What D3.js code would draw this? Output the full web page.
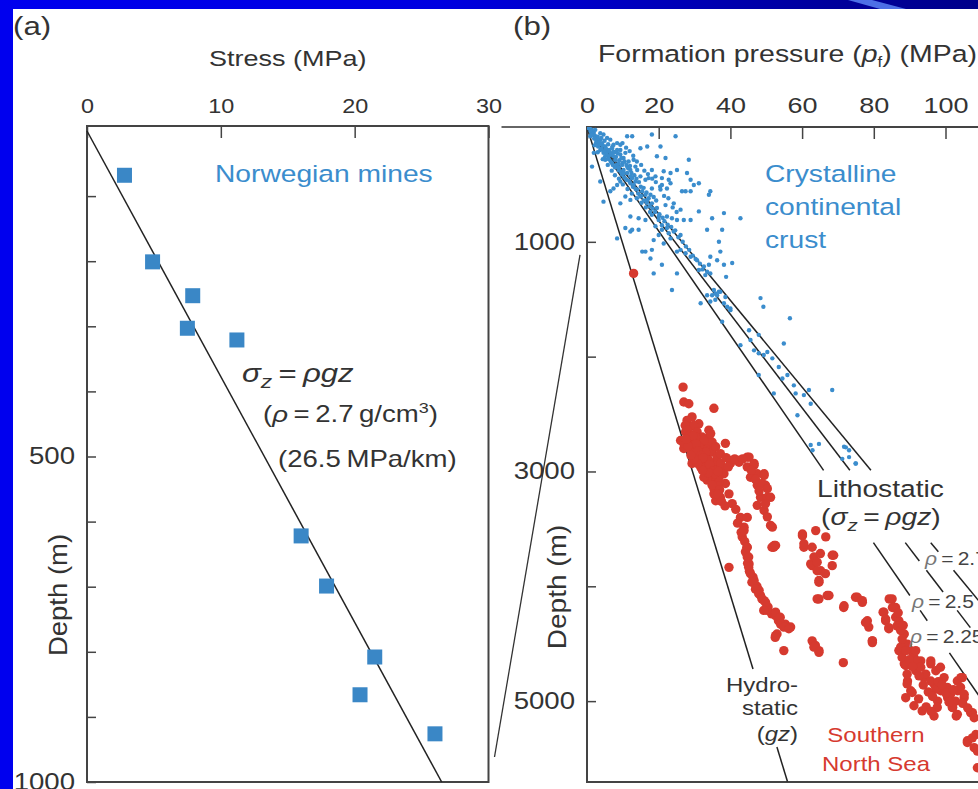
<!DOCTYPE html>
<html>
<head>
<meta charset="utf-8">
<script src="https://cdnjs.cloudflare.com/ajax/libs/d3/7.8.5/d3.min.js"></script>
<style>
body { margin: 0; background: #0000ee; overflow: hidden; }
svg { display: block; }
text { font-family: "Liberation Sans", Arial, Helvetica, sans-serif; fill: #333; }
</style>
</head>
<body>
<svg id="fig" width="978" height="789"></svg>
<script>
// ---- data ----
// (a) Norwegian mines: vertical stress vs depth
const mineStress = [2.8, 4.9, 7.9, 7.5, 11.2, 16.0, 17.9, 21.5, 20.4, 26.0];
const mineDepth = [68, 201, 253, 303, 321, 622, 699, 808, 866, 926];
const stressTicks = [0, 10, 20, 30];
const depthTicksA = [100, 200, 300, 400, 500, 600, 700, 800, 900, 1000];
const depthLabelsA = [500, 1000];
const gradA = 26.5; // MPa/km

// (b) formation pressure vs depth
const pressTicks = [0, 20, 40, 60, 80, 100, 120];
const depthTicksB = [1000, 2000, 3000, 4000, 5000];
const depthLabelsB = [1000, 3000, 5000];
const g = 9.81; // MPa/km per g/cm3
const lithoRho = [2.25, 2.5, 2.7];
// depth ranges (m) where each line is drawn (gaps leave room for labels)
const lithoSegs = [
  [[0, 2990], [3620, 4080], [4210, 4300], [4580, 5700]],
  [[0, 2990], [3620, 3780], [3860, 4050], [4210, 4360], [4580, 5700]],
  [[0, 2990], [3620, 3700], [3860, 5700]]
];
const hydroSegs = [[0, 4720], [5400, 5700]];

// crystalline continental crust [pressure MPa, depth m]
const crustPts = [
  [0.5,10],[1.4,25],[1.9,50],[2.8,95],[3.7,110],[4.2,140],[5.1,170],[5.6,215],[6.5,225],[7.4,255],
  [7.9,285],[8.8,315],[9.8,330],[10.2,375],[11.2,400],[12.1,490],[13.0,505],[14.0,545],[15.4,560],
  [16.3,590],[17.2,620],[2.3,25],[4.6,65],[6.5,110],[7.4,155],[8.4,200],[9.3,240],[10.2,270],
  [11.6,300],[7.0,315],[6.0,255],[3.3,155],[0.9,80],[1.9,225],[1.4,345],[5.1,285],[13.0,285],
  [14.0,375],[14.9,430],[16.3,460],[9.3,475],[3.7,55],[5.6,95],[7.0,185],[8.4,140],[9.3,200],
  [10.7,225],[11.2,345],[12.1,375],[8.8,375],[9.8,415],[12.6,445],[13.5,475],[7.4,215],[4.6,225],
  [3.7,200],[0.3,5],[0.8,15],[1.0,40],[1.6,60],[2.2,75],[2.6,120],[3.0,85],[3.4,130],[4.0,95],
  [4.4,160],[4.9,120],[5.3,190],[5.9,150],[6.2,200],[6.8,240],[7.1,170],[7.7,220],[8.1,260],
  [8.6,230],[9.0,290],[9.6,270],[10.0,310],[10.5,300],[11.0,330],[11.5,360],[12.0,340],[12.4,400],
  [13.2,420],[13.8,450],[14.5,480],[15.0,520],[15.8,530],[16.6,570],[17.7,590],[18.6,610],[19.3,640],
  [1.2,70],[2.0,100],[2.5,140],[3.1,170],[3.6,150],[4.1,190],[4.8,210],[5.4,240],[5.0,260],[6.1,280],
  [6.6,300],[7.2,330],[7.8,350],[8.3,330],[8.9,350],[9.4,390],[10.4,440],[11.0,460],[11.8,470],
  [12.8,520],[13.6,540],[14.3,580],[15.1,600],[15.9,640],[16.7,660],[17.5,690],[18.3,710],[19.0,740],
  [20.2,760],[21.1,790],[21.6,820],[22.5,850],[23.5,870],[24.6,900],[25.5,960],[26.7,1000],
  [27.6,1040],[28.5,1070],[29.5,1120],[30.3,1150],[31.5,1190],[32.2,1240],[33.0,1290],[2.1,160],
  [3.0,220],[4.4,280],[5.8,330],[6.9,380],[7.8,420],[8.9,450],[10.0,500],[11.3,540],[12.5,580],
  [13.9,620],[15.2,660],[16.4,700],[17.6,740],[9.9,140],[10.9,180],[11.9,210],[12.9,250],[13.9,300],
  [15.1,330],[16.0,380],[17.0,410],[18.2,450],[19.2,480],[20.4,520],[21.5,600],[22.7,620],[23.9,700],
  [25.0,740],
  [11.2,80],[12.6,80],[18.1,65],[20.5,170],[24.7,80],[14.9,185],[16.8,170],[9.3,155],[19.5,255],
  [21.9,270],[28.4,285],[25.1,375],[21.4,385],[23.3,400],[18.1,375],[19.1,430],[17.2,445],[20.9,445],
  [22.8,460],[27.9,400],[28.9,460],[29.8,505],[31.2,490],[26.5,560],[27.5,560],[28.9,560],[34.4,560],
  [34.0,590],[20.9,505],[23.3,490],[18.1,535],[20.5,545],[22.3,535],[13.5,345],[12.1,430],[10.2,400],
  [8.4,505],[7.4,535],[6.5,560],[10.7,605],[12.1,635],[4.6,650],[9.3,665],[3.7,475],[14.9,605],
  [16.8,635],[18.1,665],[19.5,705],[21.9,680],[24.2,665],[26.1,720],[28.9,810],[31.2,735],[34.9,795],
  [38.2,750],[42.8,795],[12.1,780],[14.4,795],[16.3,810],[18.1,765],[20.0,780],[22.3,780],[23.7,795],
  [25.1,810],[27.0,810],[10.7,880],[12.6,895],[14.4,895],[8.4,970],[12.1,910],[19.1,865],[20.9,895],
  [22.8,925],[20.0,940],[18.6,985],[21.4,1015],[23.3,970],[25.1,1085],[26.1,1070],[27.5,1100],
  [28.9,1130],[30.7,1160],[32.6,1215],[34.0,1200],[33.5,1260],[33.5,895],[37.7,895],[36.8,1000],
  [37.2,1085],[34.4,1130],[36.3,1160],[38.2,1200],[40.5,1185],[15.4,1085],[16.3,1085],[18.1,1070],
  [17.7,1145],[20.9,1200],[18.6,1275],[25.1,1275],[23.7,1420],[34.4,1275],[31.2,1245],[35.8,1450],
  [34.9,1465],[37.2,1435],[20.0,810],[20.9,855],[22.3,880],[24.2,910],[26.1,940],
  [31.7,1535],[36.3,1465],[38.6,1480],[35.8,1505],[39.1,1565],[40.0,1595],[37.7,1695],[38.8,1305],
  [48.4,1490],[49.2,1565],[56.6,1665],[45.2,1770],[47.9,1810],[45.6,1855],[54.9,1885],[42.8,1900],
  [46.6,1945],[47.9,1970],[49.3,1985],[50.3,1960],[51.7,2015],[53.5,2090],[47.9,2160],[54.5,2190],
  [55.9,2160],[57.7,2250],[52.1,2320],[58.2,2320],[60.5,2335],[61.9,2290],[62.4,2410],[58.7,2510],
  [68.4,2290],[62.4,2770],[64.7,2760],[62.9,2815],[71.7,2785],[73.1,2815],[71.2,2890],[74.9,2930],
  [72.2,2790],[73.1,2875],[75.0,2930],[33.5,1465],[35.4,1420],[36.8,1435],[34.4,1520],[38.2,1535],
  [40.0,1580]
];

// Southern North Sea [pressure MPa, depth m]
const seaPts = [
  [13.0,1275],
  [26.8,2265],[27.0,2395],[28.4,2410],[35.4,2450],[29.3,2525],[31.2,2585],[28.9,2610],[27.5,2655],
  [26.1,2730],[27.0,2800],[34.0,2700],[38.6,2755],[29.8,2760],[31.7,2815],[33.5,2875],[35.4,2930],
  [36.3,2990],[32.6,2960],[34.5,3050],[35.4,3150],[35.9,3255],[37.7,2990],[38.6,3105],[39.6,3195],
  [40.5,3280],[40.0,2905],[42.4,2920],[45.2,2875],[44.7,2960],[46.6,2945],[45.6,3050],[47.5,3120],
  [49.4,3020],[49.8,3120],[48.4,3225],[50.3,3225],[47.5,3295],[49.4,3340],[51.2,3470],[52.2,3645],
  [42.8,3400],[43.8,3485],[44.7,3400],[43.3,3570],[44.7,3660],[44.7,3745],[60.1,3560],[60.5,3660],
  [27.9,2555],[29.8,2600],[30.7,2655],[32.1,2700],[33.1,2745],[34.0,2785],[34.9,2830],[31.7,2905],
  [33.1,2930],[34.5,2990],[35.9,3050],[36.8,3095],[30.7,2845],[29.3,2785],[28.4,2700],[30.3,2730],
  [32.6,2815],[36.3,2875],[37.3,2930],[34.0,2640],[34.9,2745],[35.9,2785],
  [27.0,2755],[28.9,2815],[30.7,2875],[32.6,2930],[34.5,3020],[36.3,3105],[35.4,3195],[37.2,3225],
  [33.5,3075],[31.7,2960],[29.8,2755],[32.6,2730],[34.5,2670],[37.2,2845],[38.2,3020],[40.0,2930],
  [42.4,2905],[44.7,2875],[46.6,2930],[47.5,3020],[49.4,3035],[48.9,3105],[50.3,3150],[51.2,3225],
  [49.8,3280],[50.3,3395],[51.7,3485],[52.1,3660],[28.4,2700],[30.3,2700],[31.2,2785],[33.1,2830],
  [34.0,2905],[35.9,2990],[36.8,3050],[34.9,3120],[32.6,3050],[29.3,2930],
  [27.4,2600],[28.0,2640],[28.8,2680],[29.6,2690],[30.4,2760],[31.0,2820],[31.8,2860],[32.4,2880],
  [33.4,2960],[34.2,2940],[35.0,3000],[35.6,3020],[33.8,3010],[32.2,2990],[30.8,2930],[29.9,2890],
  [29.0,2860],[28.2,2780],[27.6,2720],[37.0,3160],[36.6,3000],[38.8,2880],[39.4,2960],[41.2,2890],
  [43.4,2890],[45.8,2990],[47.0,3070],[48.0,3170],
  [36.5,3200],[37.5,3260],[38.5,3300],[41.5,3330],[42.0,3450],[43.0,3530],[44.0,3610],[44.2,3700],
  [44.8,3800],[45.3,3870],[46.3,3920],[47.4,4000],[48.4,4080],[50.5,4180],[51.5,4240],[53.4,4300],
  [55.3,4330],
  [43.8,3515],[45.2,3805],[46.6,3950],[48.0,4035],[49.4,4125],[50.3,4210],[52.6,4255],[54.0,4330],
  [56.8,4355],[52.6,4430],[54.9,4560],[39.6,3835],[44.6,3660],[45.1,3745],[45.1,3835],[45.6,3890],
  [46.0,3965],[47.0,4025],[47.9,4065],[48.8,4110],[49.8,4140],[49.3,4210],[52.6,4225],[53.9,4270],
  [54.9,4355],[56.3,4370],[53.0,4415],[52.5,4445],
  [60.1,3545],[63.8,3515],[66.6,3570],[68.4,3730],[62.4,3805],[65.2,3865],[64.7,3965],[51.6,3660],
  [52.6,3645],[60.5,3630],[62.8,3660],[63.3,3745],[62.8,3820],[64.2,3865],[64.7,3950],[66.5,3890],
  [68.4,3820],[68.8,3730],[64.2,3790],[65.1,3715],
  [64.2,4110],[67.0,4080],[71.6,4185],[74.9,4095],[76.8,4140],[78.2,4300],[78.6,4355],[79.6,4475],
  [62.8,4475],[63.7,4515],[64.7,4560],[71.5,4665],[82.6,4225],[83.3,4300],[84.2,4370],[85.1,4110],
  [86.1,4185],[87.0,4300],[87.0,4560],[63.3,4530],[64.7,4575],[67.5,4080],[64.7,4110],[71.7,4170],
  [75.4,4095],[77.7,4315],[79.6,4490],
  [84.3,4110],[85.2,4185],[87.1,4355],[88.5,4415],[89.4,4505],[88.5,4675],[89.4,4825],[90.3,4910],
  [88.9,4970],[91.7,4735],[93.1,4650],[94.0,4795],[95.9,4675],[96.8,4850],[97.8,5000],[96.8,5130],
  [98.7,4910],[100.6,4970],[102.0,5055],[103.4,4910],[104.3,4795],[105.2,4970],[103.0,5130],
  [107.5,5100],[106.1,5345],[108.5,5290],[108.9,5435],[90.3,4560],[91.2,4620],[87.5,4530],
  [76.8,4125],[79.6,4475],[82.8,4225],[83.3,4285],[84.2,4360],[85.6,4185],[86.1,4270],[86.5,4345],
  [87.5,4385],[87.9,4460],[87.9,4620],[88.9,4690],[89.3,4765],[89.3,4850],[90.7,4925],[91.7,4560],
  [92.1,4650],[93.1,4705],[94.5,4765],[95.9,4650],[95.9,4825],[97.3,4735],[98.6,4705],[99.6,4795],
  [97.3,4895],[100.5,4880],[101.4,4940],[102.8,5000],[103.3,4825],[104.2,4880],[104.7,4795],
  [105.2,4940],[97.7,5055],[91.2,5040],[93.5,5085],[101.9,5055],[103.3,5115],[107.0,5100],
  [108.0,5145],[106.1,5360],[108.0,5405],[108.9,5580],[107.5,5320],
  [86.8,4230],[88.2,4340],[88.9,4560],[89.9,4640],[90.8,4700],[92.6,4780],[93.8,4860],[95.2,4920],
  [96.4,4960],[98.0,4830],[99.1,4860],[100.1,4930],[101.0,5010],[102.2,4900],[104.8,5020],
  [106.2,5060],[92.5,4980],[94.6,5050],[96.0,5090]
];

// ---- setup ----
const SX = 1.2; // the slide stretches the figure sideways
const ink = "#333";
const blueCol = "#3b8dcd";
const redCol = "#d63a2f";

const svg = d3.select("#fig");

// slide frame: blue band on top and left
const defs = svg.append("defs");
const band = defs.append("linearGradient").attr("id", "band");
band.append("stop").attr("offset", "0%").attr("stop-color", "#0000ee");
band.append("stop").attr("offset", "45%").attr("stop-color", "#0000e0");
band.append("stop").attr("offset", "85%").attr("stop-color", "#00009c");
band.append("stop").attr("offset", "100%").attr("stop-color", "#00008a");
svg.append("rect").attr("width", 978).attr("height", 9).attr("fill", "url(#band)");
svg.append("polygon").attr("points", "848,0 872,0 906,9 880,9").attr("fill", "#4d6fe6");
svg.append("rect").attr("x", 13).attr("y", 9).attr("width", 965).attr("height", 780).attr("fill", "#fff");

function txt(sel, x, y, size, anchor) {
  return sel.append("text")
    .attr("transform", `translate(${x},${y}) scale(${SX},1)`)
    .attr("text-anchor", anchor || "start")
    .style("font-size", size + "px");
}

function styleAxis(ax, size, pad, vertical) {
  ax.attr("font-family", null).attr("font-size", null);
  ax.select(".domain").remove();
  ax.selectAll(".tick line").attr("stroke", "#444").attr("stroke-width", 1.5);
  ax.selectAll(".tick text").style("font-size", size + "px").attr("fill", ink);
  if (vertical) ax.selectAll(".tick text").attr("x", 0).attr("transform", `translate(${-pad},0) scale(${SX},1)`);
  else ax.selectAll(".tick text").attr("transform", `scale(${SX},1)`);
}

// ---- panel (a) ----
const xA = d3.scaleLinear().domain([0, 30]).range([87, 488.5]);
const yA = d3.scaleLinear().domain([0, 1000]).range([131, 782]);
const topA = 126;
const gA = svg.append("g");

txt(gA, 13, 35, 26).text("(a)");
txt(gA, (xA(0) + xA(30)) / 2, 66, 22.5, "middle").text("Stress (MPa)");

const axTopA = gA.append("g").attr("transform", `translate(0,${topA})`)
  .call(d3.axisTop(xA).tickValues(stressTicks).tickSize(-12).tickPadding(13));
styleAxis(axTopA, 19.5, 0, false);

const axLeftA = gA.append("g").attr("transform", `translate(${xA(0)},0)`)
  .call(d3.axisLeft(yA).tickValues(depthTicksA).tickSize(-9).tickPadding(12)
    .tickFormat(d => depthLabelsA.includes(d) ? d : ""));
styleAxis(axLeftA, 23, 12, true);

gA.append("path")
  .attr("d", `M${xA(0)},${topA}H${xA(30)}V${yA(1000)}H${xA(0)}Z`)
  .attr("fill", "none").attr("stroke", "#444").attr("stroke-width", 2);

gA.append("text")
  .attr("transform", `translate(67,595) rotate(-90) scale(1.1,1.05)`)
  .attr("text-anchor", "middle").style("font-size", "25px").text("Depth (m)");

gA.append("path")
  .attr("d", d3.line()([[xA(0), yA(0)], [xA(gradA), yA(1000)]]))
  .attr("stroke", "#222").attr("stroke-width", 1.5).attr("fill", "none");

const sq = 15;
gA.selectAll("rect.mine").data(mineStress).enter().append("rect")
  .attr("class", "mine")
  .attr("x", d => xA(d) - sq / 2)
  .attr("y", (d, i) => yA(mineDepth[i]) - sq / 2)
  .attr("width", sq).attr("height", sq)
  .attr("fill", "#3a87c6");

txt(gA, 215, 182, 23.5).style("fill", blueCol).text("Norwegian mines");

let t = txt(gA, 242, 382, 26);
t.append("tspan").style("font-style", "italic").text("σ");
t.append("tspan").style("font-style", "italic").style("font-size", "19px").attr("dy", 6).text("z");
t.append("tspan").attr("dy", -6).text("\u2009=\u2009");
t.append("tspan").style("font-style", "italic").text("ρgz");

t = txt(gA, 263, 422, 23);
t.append("tspan").text("(");
t.append("tspan").style("font-style", "italic").text("ρ");
t.append("tspan").text("\u2009=\u20092.7\u2009g/cm");
t.append("tspan").style("font-size", "15px").attr("dy", -9).text("3");
t.append("tspan").attr("dy", 9).text(")");

txt(gA, 278, 467, 23).text("(26.5\u2009MPa/km)");

// ---- panel (b) ----
const xB = d3.scaleLinear().domain([0, 120]).range([587, 587 + 120 * 3.585]);
const yB = d3.scaleLinear().domain([0, 5700]).range([127, 781.5]);
const gB = svg.append("g");

txt(gB, 513, 35, 26).text("(b)");
t = txt(gB, 598, 62, 23.7);
t.append("tspan").text("Formation pressure (");
t.append("tspan").style("font-style", "italic").text("p");
t.append("tspan").style("font-size", "14px").attr("dy", 5).text("f");
t.append("tspan").attr("dy", -5).text(") (MPa)");

const axTopB = gB.append("g").attr("transform", `translate(0,${yB(0)})`)
  .call(d3.axisTop(xB).tickValues(pressTicks).tickSize(-12).tickPadding(14));
styleAxis(axTopB, 22.5, 0, false);

const axLeftB = gB.append("g").attr("transform", `translate(${xB(0)},0)`)
  .call(d3.axisLeft(yB).tickValues(depthTicksB).tickSize(-9).tickPadding(12)
    .tickFormat(d => depthLabelsB.includes(d) ? d : ""));
styleAxis(axLeftB, 23, 12, true);

gB.append("path")
  .attr("d", `M${xB(120)},${yB(0)}H${xB(0)}V${782}H${xB(120)}`)
  .attr("fill", "none").attr("stroke", "#444").attr("stroke-width", 2);

gB.append("text")
  .attr("transform", `translate(566,587) rotate(-90) scale(1.12,1.05)`)
  .attr("text-anchor", "middle").style("font-size", "25px").text("Depth (m)");

// zoom connectors between the panels
const conn = svg.append("g").attr("stroke", "#333").attr("stroke-width", 1.3).attr("fill", "none");
conn.append("path").attr("d", d3.line()([[xA(30) + 13, yB(0)], [xB(0) - 17, yB(0)]]));
conn.append("path").attr("d", d3.line()([[xB(0) - 7, yB(1000) + 13], [xA(30) + 6, yA(1000) - 25]]));

svg.append("clipPath").attr("id", "clipB").append("rect")
  .attr("x", xB(0)).attr("y", yB(0)).attr("width", 978 - xB(0)).attr("height", 782 - yB(0));
const plotB = gB.append("g").attr("clip-path", "url(#clipB)");

const segLine = (rho, seg) => d3.line()(seg.map(d => [xB(rho * g * d / 1000), yB(d)]));
const lines = plotB.append("g").attr("stroke", "#222").attr("stroke-width", 1.5).attr("fill", "none");
hydroSegs.forEach(s => lines.append("path").attr("d", segLine(1.0, s)));
lithoRho.forEach((rho, i) => lithoSegs[i].forEach(s => lines.append("path").attr("d", segLine(rho, s))));

plotB.append("g").selectAll("circle").data(crustPts).enter().append("circle")
  .attr("cx", d => xB(d[0])).attr("cy", d => yB(d[1])).attr("r", 2.2)
  .attr("fill", blueCol);

plotB.append("g").selectAll("circle").data(seaPts).enter().append("circle")
  .attr("cx", d => xB(d[0])).attr("cy", d => yB(d[1])).attr("r", 4.7)
  .attr("fill", redCol);

// labels in (b)
[["Crystalline", 182], ["continental", 215], ["crust", 248]].forEach(([s, y]) =>
  txt(gB, 765, y, 23.5).style("fill", blueCol).text(s));

txt(gB, 817, 497, 23.5).text("Lithostatic");
t = txt(gB, 821, 525, 23.5);
t.append("tspan").text("(");
t.append("tspan").style("font-style", "italic").text("σ");
t.append("tspan").style("font-style", "italic").style("font-size", "17px").attr("dy", 6).text("z");
t.append("tspan").attr("dy", -6).text("\u2009=\u2009");
t.append("tspan").style("font-style", "italic").text("ρgz");
t.append("tspan").text(")");

txt(gB, 798, 692, 20, "end").text("Hydro-");
txt(gB, 798, 715, 20, "end").text("static");
t = txt(gB, 798, 741, 20, "end");
t.append("tspan").text("(");
t.append("tspan").style("font-style", "italic").text("gz");
t.append("tspan").text(")");

txt(gB, 876, 742, 20, "middle").style("fill", redCol).text("Southern");
txt(gB, 876, 771, 20, "middle").style("fill", redCol).text("North Sea");

[["2.7", 925, 565], ["2.5", 912, 608], ["2.25", 910, 643]].forEach(([v, x, y]) => {
  const l = txt(gB, x, y, 17.5).style("fill", "#444");
  l.append("tspan").style("font-style", "italic").style("fill", "#777").text("ρ");
  l.append("tspan").text("\u2009=\u2009" + v);
});
</script>
</body>
</html>
